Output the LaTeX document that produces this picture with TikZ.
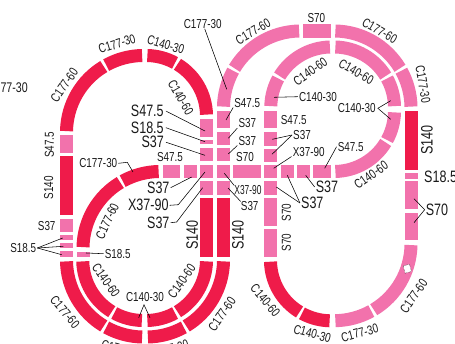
\documentclass[tikz,border=0pt]{standalone}
\usetikzlibrary{calc}
\usepackage{fontspec}
\setmainfont[FakeStretch=0.76]{Liberation Sans}
\definecolor{tred}{HTML}{EF1B4A}
\definecolor{tpink}{HTML}{F272AC}
\newcommand{\arcseg}[6]{% colour, cx, cy, r, a1, a2
  \pgfmathsetmacro{\gapang}{1.4/#4*57.3}%
  \pgfmathsetmacro{\aa}{#5+\gapang}%
  \pgfmathsetmacro{\ab}{#6-\gapang}%
  \draw[track,draw=#1] ({#2+#4*cos(\aa)},{#3+#4*sin(\aa)}) arc[start angle=\aa,end angle=\ab,radius=#4 pt];}
\newcommand{\vseg}[5]{\fill[#1] (#2,#4) rectangle (#3,#5);}
\newcommand{\lab}[5][0]{\node[lbl,rotate=#1] (#2) at (#3,#4) {#5};}
\newcommand{\blab}[5][0]{\node[lbl,big,rotate=#1] (#2) at (#3,#4) {#5};}
\newcommand{\lead}[3]{\coordinate (#1) at #3;\draw[leader] #2 -- (#1);}
\tikzset{
  track/.style={line width=13pt,line cap=butt},
  lbl/.style={inner sep=0pt,text=black!90,font=\fontsize{13}{13}\selectfont},
  big/.style={font=\fontsize{16.5}{16.5}\selectfont},
  leader/.style={line width=0.55pt,black}
}
\begin{document}
\begin{tikzpicture}[x=1pt,y=1pt,yscale=-1]
\useasboundingbox (0,0) rectangle (455,344);
% --- left arch
\arcseg{tred}{143.5}{132.5}{77}{180}{240}
\arcseg{tred}{143.5}{132.5}{77}{240}{270}
\arcseg{tred}{146}{116}{60.5}{270}{300}
\arcseg{tred}{146}{116}{60.5}{300}{360}
% --- left straight
\vseg{tpink}{60}{73}{135}{153.5}
\vseg{tred}{60}{73}{156.5}{215.5}
\vseg{tpink}{60}{73}{218.7}{232}
\vseg{tpink}{60}{73}{235.3}{240.3}
\vseg{tpink}{60}{73}{243}{248}
\vseg{tpink}{60}{73}{251.3}{257}
% --- bottom rings
\arcseg{tred}{143.5}{260}{77}{120}{180}
\arcseg{tred}{143.5}{260}{77}{90}{120}
\arcseg{tred}{146.5}{260}{77}{60}{90}
\arcseg{tred}{146.5}{260}{77}{0}{60}
\arcseg{tred}{143.25}{260}{60.5}{120}{180}
\arcseg{tred}{143.25}{260}{60.5}{90}{120}
\arcseg{tred}{146}{260}{60.5}{60}{90}
\arcseg{tred}{146}{260}{60.5}{0}{60}
% --- inner left curve
\arcseg{tred}{160}{248.5}{77}{180}{240}
\arcseg{tred}{160}{248.5}{77}{240}{270}
\vseg{tpink}{76.5}{89.5}{252}{257}
% --- column 1
\vseg{tpink}{200}{213}{119.3}{136.7}
\vseg{tpink}{200}{213}{140}{144.3}
\vseg{tpink}{200}{213}{148.3}{161}
\vseg{tpink}{200}{213}{165}{178}
\vseg{tpink}{200}{213}{181.3}{194.7}
\vseg{tred}{200}{213}{198}{257}
% --- column 2
\vseg{tpink}{217}{230}{110.7}{128.3}
\vseg{tpink}{217}{230}{131.7}{145}
\vseg{tpink}{217}{230}{148.3}{161}
\vseg{tpink}{217}{230}{165}{178}
\vseg{tpink}{217}{230}{181.3}{194.7}
\vseg{tred}{217}{230}{198}{257}
% --- column 3
\vseg{tpink}{264}{277}{111}{128.3}
\vseg{tpink}{264}{277}{131.7}{145.7}
\vseg{tpink}{264}{277}{149}{162.3}
\vseg{tpink}{264}{277}{165}{178}
\vseg{tpink}{264}{277}{181.3}{194.7}
\vseg{tpink}{264}{277}{198}{226}
\vseg{tpink}{264}{277}{228.7}{257}
% --- row
\vseg{tpink}{163}{180}{165}{178}
\vseg{tpink}{184}{197}{165}{178}
\vseg{tpink}{233}{261.3}{165}{178}
\vseg{tpink}{280.7}{293.7}{165}{178}
\vseg{tpink}{297}{309.7}{165}{178}
\vseg{tpink}{313}{331.3}{165}{178}
% --- top outer
\arcseg{tpink}{300.5}{108}{77}{180}{210}
\arcseg{tpink}{300.5}{108}{77}{210}{270}
\vseg{tpink}{303}{331.3}{24.3}{38}
\arcseg{tpink}{334}{108}{77}{270}{330}
\arcseg{tpink}{334}{108}{77}{330}{360}
% --- top inner
\arcseg{tpink}{331.3}{107.5}{60.5}{180}{210}
\arcseg{tpink}{331.3}{107.5}{60.5}{210}{270}
\arcseg{tpink}{334}{107.5}{60.5}{270}{330}
\arcseg{tpink}{334}{107.5}{60.5}{330}{360}
\arcseg{tpink}{334}{111}{60.5}{0}{30}
\arcseg{tpink}{334}{111}{60.5}{30}{90}
% --- right straight
\vseg{tred}{405}{418}{111}{170}
\vseg{tpink}{405}{418}{173}{178.7}
\vseg{tpink}{405}{418}{181.3}{209.3}
\vseg{tpink}{405}{418}{212.7}{240.3}
% --- bottom right loop
\arcseg{tpink}{334}{243.7}{77}{0}{60}
\arcseg{tpink}{334}{243.7}{77}{60}{90}
\arcseg{tred}{331}{260.3}{60.5}{90}{120}
\arcseg{tred}{331}{260.3}{60.5}{120}{180}
\node[draw=black,densely dotted,line width=0.4pt,fill=white,minimum width=6.5pt,minimum height=7.5pt,inner sep=0pt,rotate=15] (mark) at (407.3,268.7) {};
% --- labels
\node[lbl,font=\fontsize{14}{14}\selectfont,anchor=east] (cut) at (28,88) {C177-30};
\lab{a1}{202.7}{24}{C177-30}
\lab[17]{a2}{117}{44}{C177-30}
\lab[-17]{a3}{165.7}{44.7}{C140-30}
\lab[55]{a4}{64.3}{85}{C177-60}
\lab[-60]{a5}{180.7}{97.3}{C140-60}
\blab{a6}{147.3}{111}{S47.5}
\blab{a7}{147.3}{127.7}{S18.5}
\blab{a8}{152.7}{142.3}{S37}
\lab{a9}{170}{157.3}{S47.5}
\lab{a10}{98.3}{163.3}{C177-30}
\lab[90]{a11}{49.3}{145}{S47.5}
\lab[90]{a12}{48.7}{188}{S140}
\lab{a13}{46.7}{226.3}{S37}
\lab{a14}{23.3}{248}{S18.5}
\lab{a15}{117.7}{253.7}{S18.5}
\lab[65]{a16}{107.3}{221.3}{C177-60}
\lab[-55]{a17}{106}{280.3}{C140-60}
\lab[-50]{a18}{65}{312}{C177-60}
\lab{a19}{145}{297}{C140-30}
\lab[55]{a20}{181.7}{281.3}{C140-60}
\blab{a21}{158.3}{187.7}{S37}
\blab{a22}{148.3}{205.3}{X37-90}
\blab{a23}{158.3}{222.7}{S37}
\blab[90]{a24}{192.3}{235.3}{S140}
\blab[90]{a25}{238}{235.3}{S140}
\lab[30]{b1}{253}{31.7}{C177-60}
\lab{b2}{316.3}{17.7}{S70}
\lab[-30]{b3}{379.7}{30.7}{C177-60}
\lab[35]{b4}{310.3}{71.7}{C140-60}
\lab[-30]{b5}{356.3}{71.7}{C140-60}
\lab[-80]{b6}{423}{84.3}{C177-30}
\blab[90]{b7}{427}{140}{S140}
\lab{b8}{318}{96.7}{C140-30}
\lab{b9}{356.7}{108.3}{C140-30}
\lab{b10}{247.3}{102.7}{S47.5}
\lab{b11}{247.3}{123.3}{S37}
\lab{b12}{247.3}{140.7}{S37}
\lab{b13}{245}{157.3}{S70}
\lab{b14}{248}{190.3}{\scalebox{0.85}[1]{X37-90}}
\lab{b15}{249.7}{206.3}{S37}
\lab{b16}{293.7}{120}{S47.5}
\lab{b17}{302}{135}{S37}
\lab{b18}{308.7}{151.7}{X37-90}
\lab{b19}{350.7}{146.7}{S47.5}
\lab[35]{b20}{371}{175}{C140-60}
\node[lbl,big,anchor=west] (b21) at (424,176.7) {S18.5};
\blab{b22}{437}{209.7}{S70}
\blab{b23}{327}{187}{S37}
\blab{b24}{312.3}{203}{S37}
\lab[90]{b25}{286.3}{212.7}{S70}
\lab[90]{b26}{286.3}{242.7}{S70}
\lab[-50]{b27}{265.3}{300.3}{C140-60}
\lab[-15]{b28}{312.3}{333.7}{C140-30}
\lab[15]{b29}{359.7}{333}{C177-30}
\lab[55]{b30}{413.7}{296}{C177-60}
\lab[-15]{c1}{120}{349}{C177-30}
\lab[15]{c2}{170}{349}{C177-30}
\lab[55]{c3}{222}{314}{C177-60}
% --- leaders
\lead{e1}{([xshift=2pt]a1.south)}{(226.7,89.3)}
\lead{e6}{([xshift=2pt]a6.east)}{(205,131)}
\lead{e7}{([xshift=2pt]a7.east)}{(205,141.7)}
\lead{e8}{([xshift=2pt]a8.east)}{(205,155.3)}
\coordinate (k10) at (127.3,162.3);
\coordinate (e10) at (133,172);
\draw[leader] ([xshift=1pt]a10.east) -- (k10) -- (e10);
\lead{e14a}{([xshift=1pt]a14.east)}{(62.7,238)}
\lead{e14b}{([xshift=1pt]a14.east)}{(63.3,246.3)}
\lead{e14c}{([xshift=1pt]a14.east)}{(61.7,254.7)}
\lead{e15}{([xshift=-1pt]a15.west)}{(86,253)}
\coordinate (e19a) at (138.7,317.7);
\coordinate (e19b) at (150,317.7);
\draw[leader] (e19a) -- ($(a19.south)+(-1,3)$) -- (e19b);
\lead{e21}{([xshift=1pt]a21.east)}{(191.7,177)}
\coordinate (k22) at (178.3,204.7);
\coordinate (e22) at (205,172);
\draw[leader] ([xshift=1pt]a22.east) -- (k22) -- (e22);
\coordinate (k23) at (176.7,222);
\coordinate (e23) at (202.7,187.7);
\draw[leader] ([xshift=1pt]a23.east) -- (k23) -- (e23);
\lead{f8}{([xshift=-1pt]b8.west)}{(274,97.3)}
\lead{f9a}{([xshift=2pt]b9.east)}{(390.7,100.7)}
\lead{f9b}{([xshift=2pt]b9.east)}{(390.7,119.3)}
\lead{f10}{([xshift=-1pt]b10.south west)}{(226,120)}
\lead{f11}{([xshift=-1pt]b11.south west)}{(228.3,138.3)}
\lead{f12}{([xshift=-1pt]b12.south west)}{(228.3,154)}
\lead{f14}{(b14.north west)}{(224.3,173.3)}
\lead{f15}{(b15.north west)}{(228,188)}
\lead{f17a}{([xshift=-1pt]b17.west)}{(272.3,139.3)}
\lead{f17b}{([xshift=-1pt]b17.west)}{(272,154.3)}
\lead{f18}{([xshift=-1pt]b18.south west)}{(273.7,168.3)}
\lead{f19}{([xshift=-1pt]b19.west)}{(324.7,168.3)}
\lead{f22a}{([xshift=-1pt]b22.west)}{(414,198.7)}
\lead{f22b}{([xshift=-1pt]b22.west)}{(414,222.7)}
\lead{f23}{([xshift=-1pt]b23.west)}{(305.7,175.3)}
\lead{f24a}{([xshift=-1pt]b24.west)}{(276.3,187)}
\lead{f24b}{([xshift=-1pt]b24.west)}{(287.3,175.3)}
\end{tikzpicture}
\end{document}
